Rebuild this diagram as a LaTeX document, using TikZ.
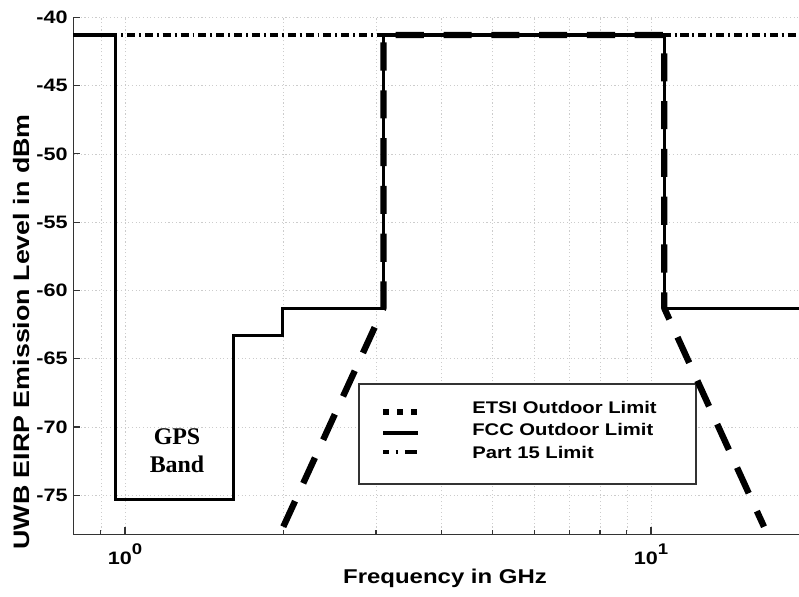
\documentclass[tikz,border=0pt]{standalone}
\usepackage{fontspec}
\newfontfamily\plotfont[FakeStretch=1.2]{Liberation Sans}
\newfontfamily\gpsfont{Liberation Serif}

\tikzset{
  gridline/.style={gray!40, line width=0.4pt, dash pattern=on 0.8pt off 1.8pt},
  axisline/.style={black!80, line width=0.8pt},
  fccline/.style={black, line width=2.3pt},
  etsiline/.style={black, line width=4.5pt, dash pattern=on 20pt off 14pt, line join=round},
  partline/.style={black, line width=3pt, dash pattern=on 5.7pt off 2.8pt on 1.4pt off 2.8pt},
  etsisample/.style={black, line width=4pt, dash pattern=on 4.5pt off 5.5pt},
  partsample/.style={black, line width=2.8pt, dash pattern=on 4.3pt off 4.6pt on 2pt off 4.6pt on 9pt off 5pt},
  ticklabel/.style={font=\plotfont\bfseries\fontsize{12.8}{14}\selectfont, inner sep=0pt},
  legendtext/.style={font=\plotfont\bfseries\fontsize{12}{14}\selectfont, inner sep=0pt},
  gpstext/.style={font=\gpsfont\bfseries\fontsize{17}{20}\selectfont, inner sep=0pt},
}

\begin{document}
\begin{tikzpicture}[x=13.15cm, y=0.34143cm]
            \useasboundingbox (-0.23764,-38.733) rectangle (1.28137,-82.374);
            % grid
            \foreach \f in {0.9,1,2,...,10}
                \draw[gridline] ({log10(\f)},-77.9) -- ({log10(\f)},-40);
            \foreach \db in {-40,-45,...,-75}
                \draw[gridline] (-0.098,\db) -- (1.28137,\db);
            % axes and ticks
            \draw[axisline] (-0.098,-40) -- (-0.098,-77.9) -- (1.28137,-77.9);
            \foreach \db [count=\i] in {-40,-45,...,-75} {
                \draw[axisline] (-0.098,\db) -- ++(0.013,0);
                \node[ticklabel, anchor=east] (ylab\i) at (-0.1084,\db) {\db};
            }
            \foreach \f in {0.9,2,3,...,9}
                \draw[axisline] ({log10(\f)},-77.9) -- ++(0,0.37);
            \draw[axisline] (0,-77.9) -- ++(0,0.55);
            \draw[axisline] (1,-77.9) -- ++(0,0.55);
            \node[ticklabel, anchor=base] (xlab0) at (0,-80.1) {10\raisebox{0.6em}{\fontsize{11}{11}\selectfont 0}};
            \node[ticklabel, anchor=base] (xlab1) at (1,-80.1) {10\raisebox{0.6em}{\fontsize{11}{11}\selectfont 1}};
            \node[font=\plotfont\bfseries\fontsize{14.2}{16}\selectfont, anchor=base] (xname) at (0.6084,-81.45) {Frequency in GHz};
            \node[font=\plotfont\bfseries\fontsize{15.9}{18}\selectfont, rotate=90] (yname) at (-0.1977,-63.04) {UWB EIRP Emission Level in dBm};
            % legend
            \draw[axisline, fill=white] (0.4449,-66.85) rectangle (1.0856,-74.17);
            \draw[etsisample] (0.4905,-68.90) -- (0.5570,-68.90);
            \draw[fccline, line width=2.8pt] (0.4905,-70.44) -- (0.5570,-70.44);
            \draw[partsample] (0.4905,-71.83) -- (0.5570,-71.83);
            \node[legendtext, anchor=base west] (etsi) at (0.6597,-69.0) {ETSI Outdoor Limit};
            \node[legendtext, anchor=base west] (fcc) at (0.6597,-70.59) {FCC Outdoor Limit};
            \node[legendtext, anchor=base west] (part) at (0.6597,-72.34) {Part 15 Limit};
            % limits
            \draw[fccline] (-0.098,-41.3) -- ({log10(0.96)},-41.3) -- ({log10(0.96)},-75.3)
                -- ({log10(1.61)},-75.3) -- ({log10(1.61)},-63.3) -- ({log10(1.99)},-63.3)
                -- ({log10(1.99)},-61.3) -- ({log10(3.1)},-61.3) -- ({log10(3.1)},-41.3)
                -- ({log10(10.6)},-41.3) -- ({log10(10.6)},-61.3) -- (1.28137,-61.3);
            \draw[etsiline] ({log10(2)},-77.3) -- ({log10(3.1)},-61.3) -- ({log10(3.1)},-41.3)
                -- ({log10(10.6)},-41.3) -- ({log10(10.6)},-61.3) -- ({log10(16.4)},-77.3);
            \draw[partline] (-0.098,-41.3) -- (1.28137,-41.3);
            \node[gpstext, anchor=base] (gps) at (0.0989,-71.26) {GPS};
            \node[gpstext, anchor=base] (band) at (0.0989,-73.35) {Band};
        \end{tikzpicture}
\end{document}
